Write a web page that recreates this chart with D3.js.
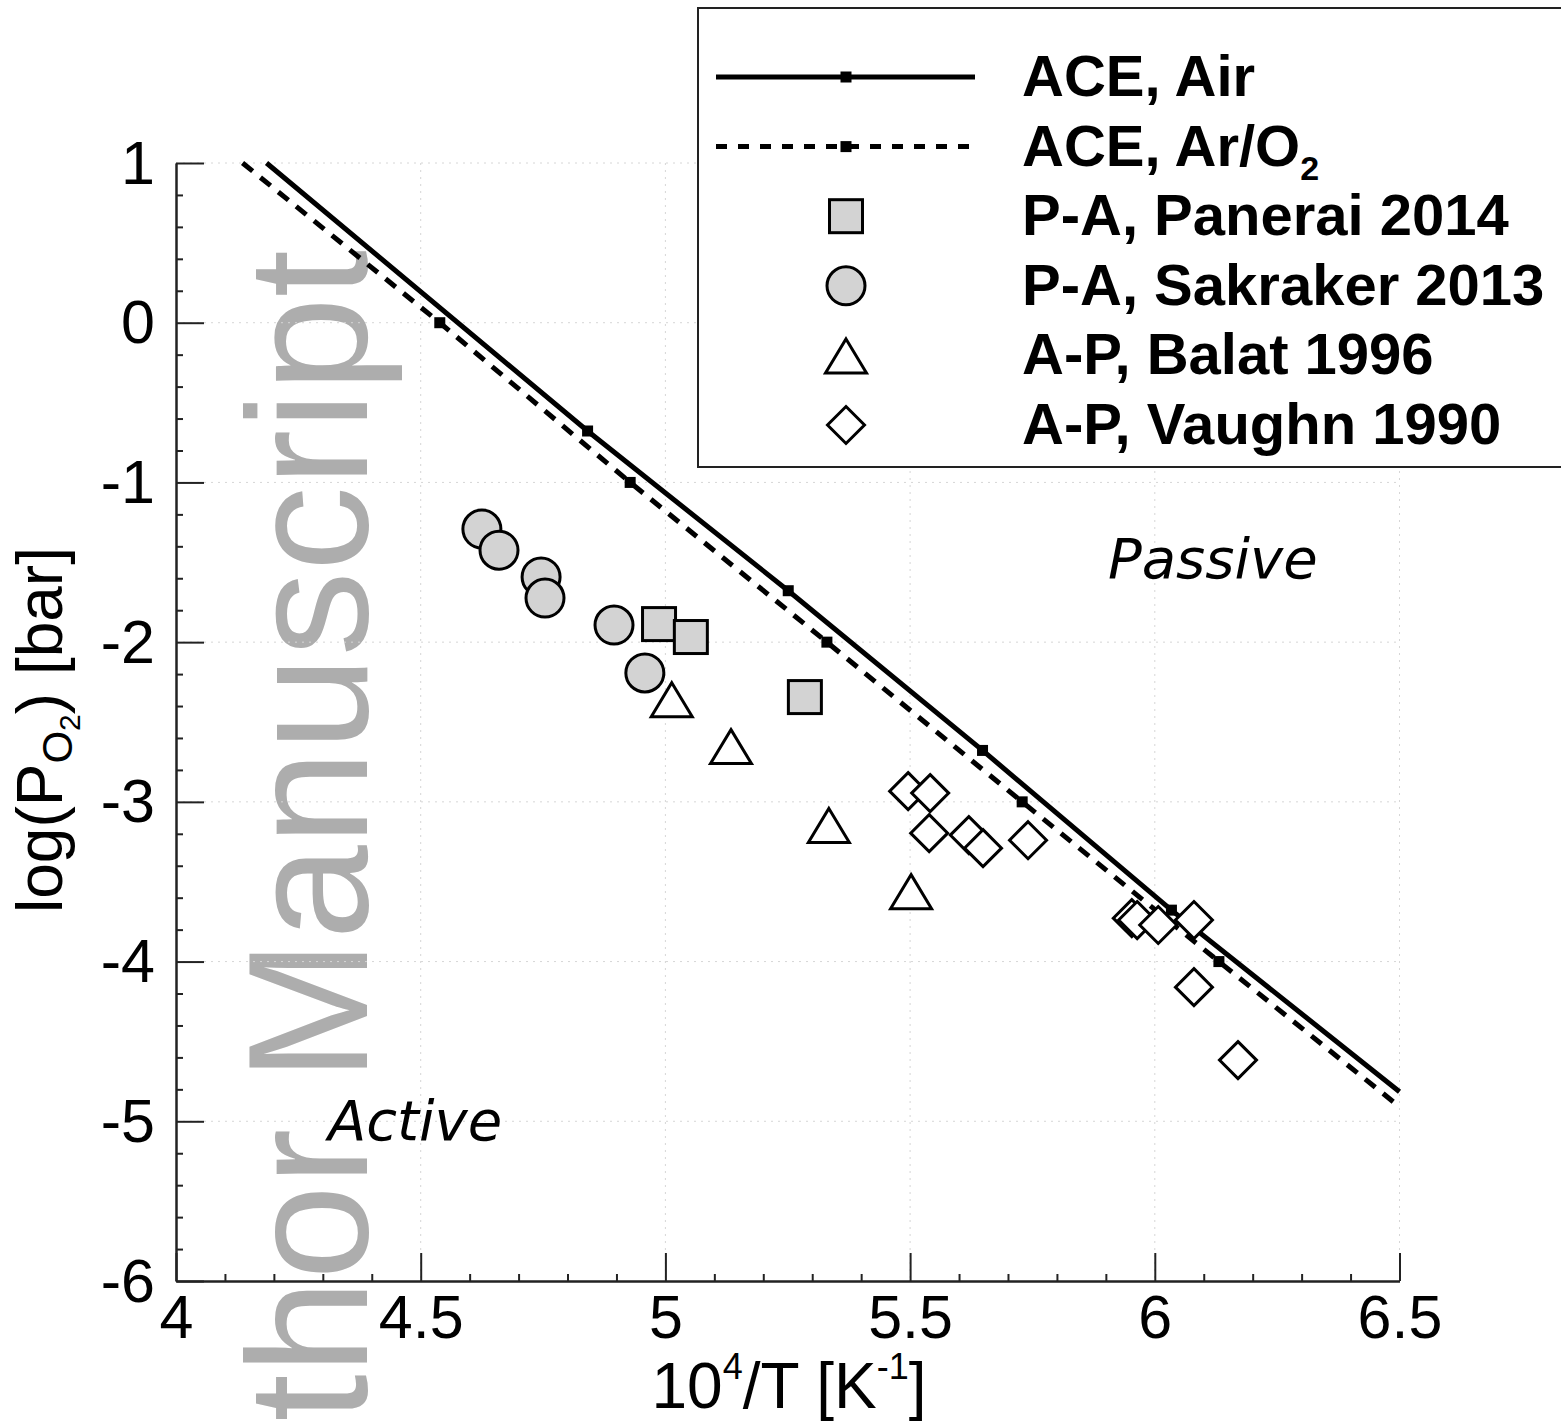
<!DOCTYPE html>
<html>
<head>
<meta charset="utf-8">
<script src="https://cdn.jsdelivr.net/npm/d3@7"></script>
<style>
  body { margin: 0; background: #fff; }
  svg { display: block; }
</style>
</head>
<body>
<svg id="chart" width="1561" height="1424"></svg>
<script>
// ---- Data -------------------------------------------------------------
// ACE equilibrium curves (active/passive transition), 10^4/T vs log(pO2)
const aceAirX  = [4.185, 4.841, 5.251, 5.648, 6.034, 6.5];
const aceAirY  = [1.0, -0.678, -1.678, -2.678, -3.678, -4.815];
const aceArO2X = [4.136, 4.539, 4.928, 5.330, 5.729, 6.131, 6.5];
const aceArO2Y = [1.0, 0.0, -1.0, -2.0, -3.0, -4.0, -4.909];

// Experimental transition points
const panneraiX = [4.987, 5.052, 5.285];
const panneraiY = [-1.887, -1.968, -2.344];
const sakrakerX = [4.625, 4.660, 4.746, 4.754, 4.895, 4.958];
const sakrakerY = [-1.292, -1.424, -1.592, -1.724, -1.893, -2.193];
const balatX = [5.013, 5.134, 5.334, 5.502];
const balatY = [-2.357, -2.651, -3.145, -3.559];
const vaughnX = [5.496, 5.541, 5.539, 5.620, 5.649, 5.741, 5.953, 5.964, 6.007, 6.080, 6.080, 6.170];
const vaughnY = [-2.933, -2.945, -3.196, -3.208, -3.290, -3.240, -3.728, -3.740, -3.771, -3.740, -4.160, -4.617];

// Axis ticks
const xTicks = [4, 4.5, 5, 5.5, 6, 6.5];
const xTickLabels = ["4", "4.5", "5", "5.5", "6", "6.5"];
const yTicks = [1, 0, -1, -2, -3, -4, -5, -6];
const yTickLabels = ["1", "0", "-1", "-2", "-3", "-4", "-5", "-6"];

const legendLabels = ["ACE, Air", "ACE, Ar/O", "P-A, Panerai 2014", "P-A, Sakraker 2013", "A-P, Balat 1996", "A-P, Vaughn 1990"];

// ---- Layout -----------------------------------------------------------
const svg = d3.select("#chart");
const x = d3.scaleLinear().domain([4, 6.5]).range([176, 1399.5]);
const y = d3.scaleLinear().domain([-6, 1]).range([1281, 163]);
const SANS = "'Liberation Sans', Arial, Helvetica, sans-serif";

// Watermark behind everything
svg.append("text")
  .attr("transform", "translate(367,250) rotate(-90)")
  .attr("text-anchor", "end")
  .attr("font-family", SANS)
  .attr("font-size", 170)
  .attr("fill", "#adadad")
  .text("Author Manuscript");

// Faint dotted grid at major ticks
const grid = svg.append("g").attr("stroke", "#d6d6d6").attr("stroke-width", 1).attr("stroke-dasharray", "2,5");
grid.selectAll("line.gx").data(xTicks.slice(1)).join("line")
  .attr("x1", d => x(d)).attr("x2", d => x(d)).attr("y1", y(1)).attr("y2", y(-6));
grid.selectAll("line.gy").data(yTicks.slice(0, -1)).join("line")
  .attr("x1", x(4)).attr("x2", x(6.5)).attr("y1", d => y(d)).attr("y2", d => y(d));

// Axes (ticks pointing inward)
const xMinor = d3.range(41, 65).map(v => v / 10).filter(v => Math.abs(v * 2 - Math.round(v * 2)) > 1e-6);
const yMinor = d3.range(-29, 5).map(v => v / 5).filter(v => Math.abs(v - Math.round(v)) > 1e-6);

function styleAxis(g) {
  g.select(".domain").attr("stroke", "#222").attr("stroke-width", 2);
  g.selectAll(".tick line").attr("stroke", "#222").attr("stroke-width", 2);
  g.selectAll(".tick text").attr("font-family", SANS).attr("font-size", 61).attr("fill", "#000");
}

svg.append("g").attr("transform", `translate(0,${y(-6)})`)
  .call(d3.axisBottom(x).tickValues(xMinor).tickFormat("").tickSizeInner(-7).tickSizeOuter(0))
  .call(styleAxis);
svg.append("g").attr("transform", `translate(${x(4)},0)`)
  .call(d3.axisLeft(y).tickValues(yMinor).tickFormat("").tickSizeInner(-7).tickSizeOuter(0))
  .call(styleAxis);
svg.append("g").attr("transform", `translate(0,${y(-6)})`)
  .call(d3.axisBottom(x).tickValues(xTicks).tickFormat((d, i) => xTickLabels[i]).tickSizeInner(-28).tickSizeOuter(0).tickPadding(14))
  .call(styleAxis);
svg.append("g").attr("transform", `translate(${x(4)},0)`)
  .call(d3.axisLeft(y).tickValues(yTicks).tickFormat((d, i) => yTickLabels[i]).tickSizeInner(-28).tickSizeOuter(0).tickPadding(21))
  .call(styleAxis)
  .call(g => g.selectAll(".tick text").attr("dy", "0.33em"));

// Axis titles
const xt = svg.append("text").attr("x", 789).attr("y", 1408).attr("text-anchor", "middle")
  .attr("font-family", SANS).attr("font-size", 64).attr("fill", "#000");
xt.append("tspan").text("10");
xt.append("tspan").attr("font-size", 36).attr("dy", -29).text("4");
xt.append("tspan").attr("dy", 29).text("/T [K");
xt.append("tspan").attr("font-size", 36).attr("dy", -29).text("-1");
xt.append("tspan").attr("dy", 29).text("]");

const yt = svg.append("text").attr("transform", "translate(62,730) rotate(-90)").attr("text-anchor", "middle")
  .attr("font-family", SANS).attr("font-size", 64).attr("fill", "#000");
yt.append("tspan").text("log(P");
yt.append("tspan").attr("font-size", 42).attr("dy", 10).text("O");
yt.append("tspan").attr("font-size", 30).attr("dy", 8).text("2");
yt.append("tspan").attr("dy", -18).text(") [bar]");

// Region labels
svg.append("text").attr("x", 1108).attr("y", 578).attr("font-family", "'DejaVu Sans', sans-serif")
  .attr("font-style", "oblique").attr("font-size", 56).text("Passive");
svg.append("text").attr("x", 328).attr("y", 1140).attr("font-family", "'DejaVu Sans', sans-serif")
  .attr("font-style", "oblique").attr("font-size", 56).text("Active");

// ---- ACE curves -------------------------------------------------------
const line = d3.line().x(d => x(d[0])).y(d => y(d[1]));
const airPts = aceAirX.map((v, i) => [v, aceAirY[i]]);
const arPts = aceArO2X.map((v, i) => [v, aceArO2Y[i]]);

svg.append("path").attr("d", line(arPts)).attr("fill", "none").attr("stroke", "#000")
  .attr("stroke-width", 5).attr("stroke-dasharray", "13,10");
svg.append("path").attr("d", line(airPts)).attr("fill", "none").attr("stroke", "#000")
  .attr("stroke-width", 5);

const M = 11;
svg.append("g").selectAll("rect").data(airPts.slice(1, -1).concat(arPts.slice(1, -1))).join("rect")
  .attr("x", d => x(d[0]) - M / 2).attr("y", d => y(d[1]) - M / 2)
  .attr("width", M).attr("height", M).attr("fill", "#000");

// ---- Symbols ----------------------------------------------------------
function symbol(g, type, cx, cy) {
  if (type === "square") {
    g.append("rect").attr("x", cx - 16.5).attr("y", cy - 16.5).attr("width", 33).attr("height", 33)
      .attr("fill", "#d3d3d3").attr("stroke", "#000").attr("stroke-width", 3);
  } else if (type === "circle") {
    g.append("circle").attr("cx", cx).attr("cy", cy).attr("r", 19)
      .attr("fill", "#d3d3d3").attr("stroke", "#000").attr("stroke-width", 3);
  } else if (type === "triangle") {
    g.append("path").attr("d", `M${cx},${cy - 16.5}L${cx + 20.5},${cy + 17.5}L${cx - 20.5},${cy + 17.5}Z`)
      .attr("fill", "#fff").attr("stroke", "#000").attr("stroke-width", 3);
  } else if (type === "diamond") {
    const r = 18.5;
    g.append("path").attr("d", `M${cx},${cy - r}L${cx + r},${cy}L${cx},${cy + r}L${cx - r},${cy}Z`)
      .attr("fill", "#fff").attr("stroke", "#000").attr("stroke-width", 3);
  }
}

const marks = svg.append("g");
sakrakerX.forEach((v, i) => symbol(marks, "circle", x(v), y(sakrakerY[i])));
panneraiX.forEach((v, i) => symbol(marks, "square", x(v), y(panneraiY[i])));
balatX.forEach((v, i) => symbol(marks, "triangle", x(v), y(balatY[i])));
vaughnX.forEach((v, i) => symbol(marks, "diamond", x(v), y(vaughnY[i])));

// ---- Legend -----------------------------------------------------------
const lg = svg.append("g");
lg.append("rect").attr("x", 698).attr("y", 8).attr("width", 900).attr("height", 459)
  .attr("fill", "#fff").attr("stroke", "#222").attr("stroke-width", 2);
const rowY = d3.range(6).map(i => 77 + i * 69.6);
lg.append("line").attr("x1", 716).attr("x2", 975).attr("y1", rowY[0]).attr("y2", rowY[0])
  .attr("stroke", "#000").attr("stroke-width", 5);
lg.append("line").attr("x1", 716).attr("x2", 975).attr("y1", rowY[1]).attr("y2", rowY[1])
  .attr("stroke", "#000").attr("stroke-width", 5).attr("stroke-dasharray", "11,11");
[0, 1].forEach(i => lg.append("rect").attr("x", 846 - M / 2).attr("y", rowY[i] - M / 2)
  .attr("width", M).attr("height", M).attr("fill", "#000"));
["square", "circle", "triangle", "diamond"].forEach((t, i) => symbol(lg, t, 846, rowY[i + 2]));
legendLabels.forEach((s, i) => {
  const t = lg.append("text").attr("x", 1022).attr("y", rowY[i] + 19)
    .attr("font-family", SANS).attr("font-weight", "bold").attr("font-size", 58).attr("fill", "#000");
  t.append("tspan").text(s);
  if (i === 1) t.append("tspan").attr("font-size", 34).attr("dy", 14).text("2");
});
</script>
</body>
</html>
